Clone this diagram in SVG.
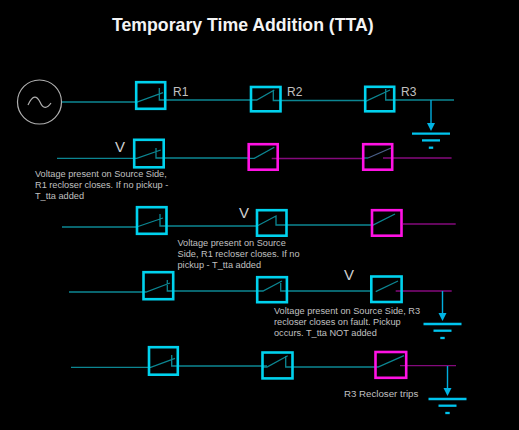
<svg xmlns="http://www.w3.org/2000/svg" width="519" height="430" viewBox="0 0 519 430">
<defs>
<g id="gnd"><path class="g" d="M-19 0H19"/><path class="g" d="M-9 6.700H9"/><path class="g" d="M-2.200 14H2.200"/></g>
<path id="ah" d="M-4 -8H4L0 0z" fill="#00b4e4"/>
</defs>
<style>
text{font-family:"Liberation Sans",Arial,sans-serif;fill:#c0c0c0}
.t{font-size:9.200px}
.r{font-size:12px}
.v{font-size:15px;fill:#d0d0d0}
.c{fill:none;stroke:#00d2ee;stroke-width:2.600}
.m{fill:none;stroke:#ff12e4;stroke-width:2.600}
.l{fill:none;stroke:#0c8692;stroke-width:1.300}
.p{fill:none;stroke:#840a7c;stroke-width:1.300}
.a{fill:none;stroke:#00aede;stroke-width:1.400}
.g{fill:none;stroke:#00c4ee;stroke-width:2.300}
</style>
<rect width="519" height="430" fill="#000"/>
<text x="112" y="31" style="font-size:17.700px;font-weight:bold;fill:#f4f4f4">Temporary Time Addition (TTA)</text>
<g id="connectors">
<path class="l" d="M62 102H137L163 92.700M159.300 88V100H251"/>
<path class="l" d="M251 100H256.700L274.300 90M273.300 90V100.500H365"/>
<path class="l" d="M365 101.700L390 90M385.700 89V100H454"/>
<path class="a" d="M431 100V125"/><use href="#ah" x="431" y="131"/>
<path class="l" d="M57 158.300H136.700L160.700 150M156 148V158H248"/>
<path class="l" d="M248 158.300H254.300L274.300 147.300"/>
<path class="p" d="M271.700 158.500H363"/>
<path class="l" d="M363 158H368"/>
<path class="l" d="M368 158L391 148" style="stroke:#4a5f88"/>
<path class="p" d="M383 158H451.600"/>
<path class="l" d="M62 227H137M138 226.500L163 218M160 214V226H257"/>
<path class="l" d="M257 226L276 216V225H373L395 214"/>
<path class="p" d="M403 224H455.700"/>
<path class="l" d="M69 292H146L170 283M167.300 280V291H263L282 281M280.700 281V291H371"/>
<path class="l" d="M375.700 291.700L398 281"/>
<path class="p" d="M395.700 291H451.700"/>
<path class="a" d="M442.500 291V315"/><use href="#ah" x="442.500" y="321"/>
<path class="l" d="M71 367.300H150.700L175 358.300M171.700 355V366H267"/>
<path class="l" d="M262 367H267L287.700 355.700M285.700 356V367H378L404 355.700"/>
<path class="p" d="M400 365.700H456"/>
<path class="a" d="M447.500 366V390"/><use href="#ah" x="447.500" y="396"/>
</g>
<g id="source"><circle cx="39.500" cy="102" r="22" fill="none" stroke="#b0b0b0" stroke-width="1.200"/><path d="M28 105C33 94 37 96 40 102C43 109 47 109 51 103" fill="none" stroke="#b0b0b0" stroke-width="1.200"/></g>
<g id="r1-row1"><rect class="c" x="136.200" y="82.200" width="29" height="26.600"/><text class="r" x="173" y="96">R1</text></g>
<g id="r2-row1"><rect class="c" x="251" y="87" width="29.500" height="24.300"/><text class="r" x="287" y="96">R2</text></g>
<g id="r3-row1"><rect class="c" x="365.200" y="86.800" width="29" height="24.500"/><text class="r" x="401" y="96">R3</text></g>
<g id="gnd-row1"><use href="#gnd" x="431" y="133.700"/></g>
<g id="r1-row2"><rect class="c" x="134.200" y="139.800" width="29.500" height="27.500"/><text class="v" x="115" y="152">V</text><text class="t" x="35" y="177">Voltage present on Source Side,</text><text class="t" x="35" y="188">R1 recloser closes. If no pickup -</text><text class="t" x="35" y="199">T_tta added</text></g>
<g id="r2-row2"><rect class="m" x="248.700" y="144.200" width="29" height="25.500"/></g>
<g id="r3-row2"><rect class="m" x="363.200" y="144.200" width="29" height="25.500"/></g>
<g id="r1-row3"><rect class="c" x="137" y="207.200" width="29.500" height="26.600"/></g>
<g id="r2-row3"><rect class="c" x="257" y="210.200" width="29.500" height="25.500"/><text class="v" x="239" y="218">V</text><text class="t" x="177.500" y="246">Voltage present on Source</text><text class="t" x="177.500" y="257">Side, R1 recloser closes. If no</text><text class="t" x="177.500" y="268">pickup - T_tta added</text></g>
<g id="r3-row3"><rect class="m" x="372" y="210.200" width="29.500" height="25.500"/></g>
<g id="r1-row4"><rect class="c" x="143.500" y="272.200" width="29.700" height="27"/></g>
<g id="r2-row4"><rect class="c" x="257.200" y="277.200" width="29.700" height="25"/></g>
<g id="r3-row4"><rect class="c" x="371.300" y="276.500" width="30.300" height="25.500"/><text class="v" x="344" y="280">V</text><text class="t" x="274" y="314">Voltage present on Source Side, R3</text><text class="t" x="274" y="325">recloser closes on fault. Pickup</text><text class="t" x="274" y="336">occurs. T_tta NOT added</text></g>
<g id="gnd-row4"><use href="#gnd" x="442.500" y="324"/></g>
<g id="r1-row5"><rect class="c" x="149" y="347.200" width="28.800" height="27.500"/></g>
<g id="r2-row5"><rect class="c" x="262.500" y="352.500" width="30" height="25.900"/></g>
<g id="r3-row5"><rect class="m" x="375.500" y="352" width="30.700" height="25.800"/><text class="t" x="344" y="397" style="font-size:9.700px">R3 Recloser trips</text></g>
<g id="gnd-row5"><use href="#gnd" x="447.500" y="399"/></g>
</svg>
